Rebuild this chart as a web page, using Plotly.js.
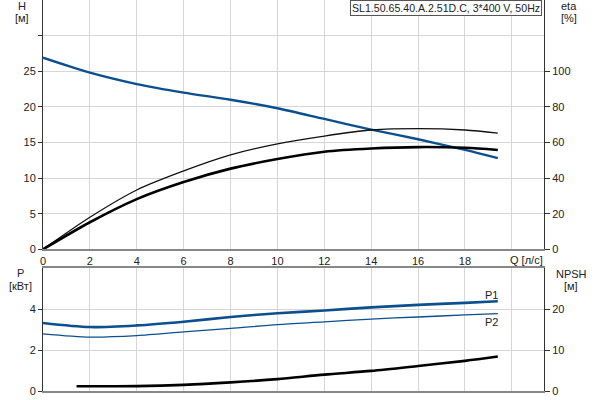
<!DOCTYPE html>
<html>
<head>
<meta charset="utf-8">
<script src="https://cdn.plot.ly/plotly-3.0.1.min.js"></script>
<style>html,body{margin:0;padding:0;background:#fff;}#chart{width:600px;height:400px;}</style>
</head>
<body>
<div id="chart"></div>
<script>
// ---- data ----
const qHead = [0, 2, 4, 6, 8, 10, 12, 14, 16, 18, 19.4];
const head  = [26.9, 24.8, 23.2, 22.0, 21.0, 19.8, 18.3, 16.8, 15.45, 13.95, 12.8];

const qEta = [0, 2, 4, 6, 8, 10, 12, 14, 16, 18, 19.4];
const etaPump  = [0, 18.0, 33.3, 44.0, 53.0, 59.2, 63.6, 67.0, 67.8, 67.0, 65.2];
const etaTotal = [0, 15.2, 28.2, 37.8, 45.3, 50.7, 54.8, 56.6, 57.4, 57.0, 55.8];

const qPower = [0, 2, 4, 6, 8, 10, 12, 14, 16, 18, 19.4];
const powerP1 = [3.32, 3.12, 3.20, 3.38, 3.61, 3.79, 3.93, 4.08, 4.20, 4.30, 4.38];
const powerP2 = [2.79, 2.63, 2.70, 2.88, 3.05, 3.24, 3.37, 3.51, 3.61, 3.71, 3.77];

const qNpsh = [1.43, 4, 6, 8, 10, 12, 14, 16, 18, 19.4];
const npsh  = [1.15, 1.2, 1.5, 2.1, 2.9, 4.0, 4.9, 6.1, 7.35, 8.4];

const qTicks = [0, 2, 4, 6, 8, 10, 12, 14, 16, 18, 20];
const qTickText = ['0', '2', '4', '6', '8', '10', '12', '14', '16', '18', ''];
const hTicks = [0, 5, 10, 15, 20, 25, 30];
const hTickText = ['0', '5', '10', '15', '20', '25', ''];
const etaTicks = [0, 20, 40, 60, 80, 100];
const pTicks = [0, 2, 4];
const npshTicks = [0, 10, 20];

const titleText = 'SL1.50.65.40.A.2.51D.C, 3*400 V, 50Hz';

// ---- layout helpers ----
const L = 43, R = 544, T = 0, B = 391;
const px = v => (v - L) / (R - L);
const py = v => (B - v) / (B - T);

const blue = '#0b4f8e';
const txt = '#222';
const grid = '#d6d6d6';
const fontFam = 'Liberation Sans, Arial, sans-serif';

const traces = [
  {x: qEta, y: etaPump, xaxis: 'x', yaxis: 'y2', mode: 'lines', line: {color: '#111', width: 1.3, shape: 'spline', smoothing: 0.8}},
  {x: qEta, y: etaTotal, xaxis: 'x', yaxis: 'y2', mode: 'lines', line: {color: '#000', width: 2.6, shape: 'spline', smoothing: 0.8}},
  {x: qHead, y: head, xaxis: 'x', yaxis: 'y', mode: 'lines', line: {color: blue, width: 2.4, shape: 'spline', smoothing: 0.8}},
  {x: qPower, y: powerP1, xaxis: 'x3', yaxis: 'y3', mode: 'lines', line: {color: blue, width: 2.6, shape: 'spline', smoothing: 0.8}},
  {x: qPower, y: powerP2, xaxis: 'x3', yaxis: 'y3', mode: 'lines', line: {color: blue, width: 1.3, shape: 'spline', smoothing: 0.8}},
  {x: qNpsh, y: npsh, xaxis: 'x3', yaxis: 'y4', mode: 'lines', line: {color: '#000', width: 2.6, shape: 'spline', smoothing: 0.8}}
];

const tf = {family: fontFam, size: 11, color: txt};
const qRange = [0, 21.37];

function label(x, y, text) {
  return {xref: 'paper', yref: 'paper', x: px(x), y: py(y), xanchor: 'center', yanchor: 'middle',
          text: text, showarrow: false, font: tf};
}

const layout = {
  width: 600, height: 400,
  margin: {l: L, r: 600 - R, t: T, b: 400 - B, pad: 0},
  paper_bgcolor: '#fff', plot_bgcolor: '#fff',
  showlegend: false,
  font: {family: fontFam, size: 11, color: txt},
  xaxis: {domain: [0, 1], anchor: 'y', range: qRange, tickvals: qTicks, ticktext: qTickText,
          showgrid: true, gridcolor: grid, gridwidth: 1, zeroline: false,
          showline: true, linecolor: '#888', linewidth: 2, ticks: '', tickfont: tf},
  yaxis: {domain: [py(249.3), 1], anchor: 'x', range: [0, 35], tickvals: hTicks, ticktext: hTickText,
          showgrid: true, gridcolor: grid, zeroline: false, showline: true, linecolor: '#333', linewidth: 1,
          ticks: 'outside', ticklen: 4, tickcolor: '#333', tickfont: tf},
  yaxis2: {overlaying: 'y', side: 'right', anchor: 'x', range: [0, 140], tickvals: etaTicks,
           showgrid: false, zeroline: false, showline: true, linecolor: '#333', linewidth: 1,
           ticks: 'outside', ticklen: 5, tickcolor: '#333', tickfont: tf},
  xaxis3: {domain: [0, 1], anchor: 'y3', range: qRange, tickvals: qTicks, showticklabels: false,
           showgrid: true, gridcolor: grid, zeroline: false, showline: true, mirror: true,
           linecolor: '#888', linewidth: 2, ticks: ''},
  yaxis3: {domain: [0, py(268)], anchor: 'x3', range: [0, 6], tickvals: pTicks,
           showgrid: true, gridcolor: grid, zeroline: false, showline: true, linecolor: '#333', linewidth: 1,
           ticks: 'outside', ticklen: 4, tickcolor: '#333', tickfont: tf},
  yaxis4: {overlaying: 'y3', side: 'right', anchor: 'x3', range: [0, 30], tickvals: npshTicks,
           showgrid: false, zeroline: false, showline: true, linecolor: '#333', linewidth: 1,
           ticks: 'outside', ticklen: 5, tickcolor: '#333', tickfont: tf},
  annotations: [
    label(22, 6, 'H'),
    label(22, 18, '[м]'),
    label(569, 6, 'eta'),
    label(569, 18, '[%]'),
    label(526, 260, 'Q [л/с]'),
    label(20, 273, 'P'),
    label(20, 286, '[кВт]'),
    label(571, 274, 'NPSH'),
    label(571, 286, '[м]'),
    label(491, 295, 'P1'),
    label(491, 322, 'P2'),
    {xref: 'paper', yref: 'paper', x: px(542), y: py(0), xanchor: 'right', yanchor: 'top',
     text: titleText, showarrow: false, font: {family: fontFam, size: 10.6, color: txt},
     bgcolor: '#fff', bordercolor: '#555', borderwidth: 1, borderpad: 1}
  ]
};

Plotly.newPlot('chart', traces, layout, {staticPlot: true, displayModeBar: false});
</script>
</body>
</html>
